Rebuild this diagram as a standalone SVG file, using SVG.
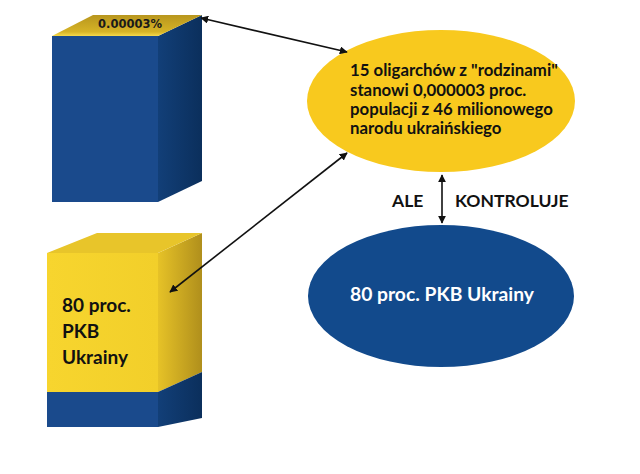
<svg xmlns="http://www.w3.org/2000/svg" width="640" height="474" viewBox="0 0 640 474">
<style>
.t{font-family:Lato,"Open Sans","Liberation Sans",sans-serif;font-weight:bold}
.dk{fill:#111}
.conn{stroke:#111;stroke-width:1.6;fill:none;marker-start:url(#ah);marker-end:url(#ah)}
</style>
<defs>
<marker id="ah" viewBox="0 0 10 10" refX="9" refY="5" markerWidth="8" markerHeight="8" markerUnits="userSpaceOnUse" orient="auto-start-reverse">
<path d="M0,0 L10,5 L0,10 z" fill="#111"/>
</marker>
<linearGradient id="sideBlue" x1="0" y1="0" x2="1" y2="0">
<stop offset="0" stop-color="#123f78"/><stop offset="1" stop-color="#0b2f5c"/>
</linearGradient>
<linearGradient id="sideYel" x1="0" y1="0" x2="1" y2="0">
<stop offset="0" stop-color="#e6c227"/><stop offset="1" stop-color="#b08f1c"/>
</linearGradient>
<linearGradient id="topGold" x1="0" y1="0" x2="0" y2="1">
<stop offset="0" stop-color="#b8961e"/><stop offset="0.8" stop-color="#d6b326"/><stop offset="1" stop-color="#f6d94a"/>
</linearGradient>
<linearGradient id="frontYel" x1="0" y1="0" x2="1" y2="0">
<stop offset="0" stop-color="#f7d52e"/><stop offset="1" stop-color="#f2cf2a"/>
</linearGradient>
</defs>
<rect width="640" height="474" fill="#fff"/>

<g id="box-top">
<rect x="52" y="36" width="106" height="166" fill="#1a4a8c"/>
<polygon points="158,36 202,15 202,181 158,202" fill="url(#sideBlue)"/>
<polygon points="52,36 93,15 202,15 158,36" fill="url(#topGold)"/>
<text x="130" y="28" font-family="DejaVu Sans,Verdana,sans-serif" font-weight="bold" font-size="11.5" fill="#1a1a1a" text-anchor="middle">0.00003%</text>
</g>

<g id="box-bottom">
<rect x="47" y="253" width="111" height="139" fill="url(#frontYel)"/>
<rect x="47" y="392" width="111" height="35" fill="#1a4a8c"/>
<polygon points="158,253 202,233 202,372 158,392" fill="url(#sideYel)"/>
<polygon points="158,392 202,372 202,418 158,427" fill="url(#sideBlue)"/>
<polygon points="47,253 97,233 202,233 158,253" fill="#e8c52a"/>
<text class="t dk" x="62" y="312" font-size="19">80 proc.</text>
<text class="t dk" x="62" y="338" font-size="19">PKB</text>
<text class="t dk" x="62" y="364" font-size="19">Ukrainy</text>
</g>

<g id="ellipse-oligarchs">
<ellipse cx="441" cy="101" rx="134" ry="71" fill="#f8c91e"/>
<text class="t dk" font-size="16.8">
<tspan x="350" y="76">15 oligarchów z "rodzinami"</tspan>
<tspan x="350" y="95.5">stanowi 0,000003 proc.</tspan>
<tspan x="350" y="115">populacji z 46 milionowego</tspan>
<tspan x="350" y="134">narodu ukraińskiego</tspan>
</text>
</g>

<g id="ellipse-pkb">
<ellipse cx="441" cy="296" rx="133" ry="71" fill="#124a8c"/>
<text class="t" x="442" y="301" font-size="19.3" fill="#fff" text-anchor="middle">80 proc. PKB Ukrainy</text>
</g>

<g id="labels">
<text class="t dk" x="392" y="207" font-size="17.5">ALE</text>
<text class="t dk" x="455" y="207" font-size="17.5">KONTROLUJE</text>
</g>

<g id="connectors">
<line class="conn" x1="201" y1="18" x2="347" y2="52"/>
<line class="conn" x1="347" y1="153" x2="170" y2="292"/>
<line class="conn" x1="442" y1="175" x2="442" y2="223"/>
</g>
</svg>
